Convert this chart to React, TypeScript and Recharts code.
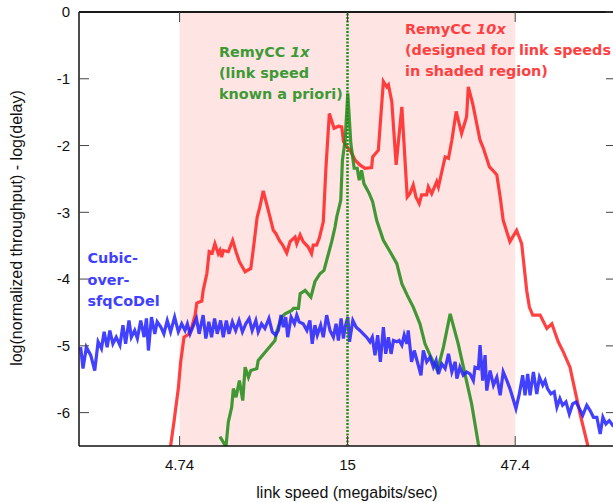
import React from "react";
import {
  LineChart,
  Line,
  XAxis,
  YAxis,
  ReferenceArea,
  ReferenceLine,
} from "recharts";

// x = log10(link speed, Mbps), y = log(normalized throughput) - log(delay)
const remy10x: [number, number][] = [
  [0.647, -6.57], [0.659, -6.14], [0.672, -5.64], [0.679, -5.24], [0.689, -4.87],
  [0.702, -4.83], [0.712, -4.72], [0.722, -4.54], [0.727, -4.36], [0.742, -4.33],
  [0.746, -4.17], [0.757, -3.92], [0.764, -3.59], [0.773, -3.61], [0.781, -3.47],
  [0.791, -3.62], [0.796, -3.57], [0.801, -3.67], [0.806, -3.57], [0.821, -3.59],
  [0.834, -3.42], [0.844, -3.59], [0.854, -3.74], [0.871, -3.89], [0.888, -3.84],
  [0.895, -3.57], [0.907, -3.07], [0.915, -2.92], [0.925, -2.68], [0.935, -2.87],
  [0.945, -3.07], [0.955, -3.27], [0.963, -3.32], [0.973, -3.42], [0.983, -3.49],
  [0.995, -3.61], [1.005, -3.44], [1.02, -3.37], [1.025, -3.47], [1.035, -3.34],
  [1.044, -3.44], [1.059, -3.52], [1.069, -3.62], [1.074, -3.49], [1.084, -3.49],
  [1.092, -3.39], [1.104, -3.14], [1.112, -2.32], [1.122, -1.52], [1.136, -1.74],
  [1.149, -1.71], [1.159, -1.72], [1.164, -1.94], [1.174, -2.02], [1.184, -2.07],
  [1.199, -2.22], [1.213, -2.29], [1.228, -2.34], [1.248, -2.33], [1.251, -2.17],
  [1.268, -2.07], [1.283, -1.04], [1.293, -1.12], [1.298, -1.09], [1.308, -1.34],
  [1.321, -2.29], [1.338, -1.42], [1.354, -2.77], [1.362, -2.72], [1.372, -2.59],
  [1.38, -2.77], [1.39, -2.87], [1.397, -2.74], [1.412, -2.74], [1.417, -2.62],
  [1.427, -2.72], [1.442, -2.54], [1.447, -2.62], [1.467, -2.17], [1.477, -2.19],
  [1.487, -1.92], [1.5, -1.49], [1.516, -1.82], [1.531, -1.57], [1.536, -1.12],
  [1.549, -1.37], [1.571, -1.92], [1.581, -2.04], [1.599, -2.32], [1.609, -2.37],
  [1.621, -2.44], [1.631, -2.77], [1.64, -3.12], [1.66, -3.44], [1.68, -3.27],
  [1.695, -3.47], [1.71, -4.17], [1.718, -4.42], [1.728, -4.54], [1.75, -4.54],
  [1.77, -4.74], [1.785, -4.67], [1.804, -4.94], [1.819, -5.09], [1.839, -5.32],
  [1.854, -5.67], [1.869, -6.02], [1.891, -6.47], [1.896, -6.64],
];

const remy1x: [number, number][] = [
  [0.796, -6.36], [0.814, -6.51], [0.821, -6.14], [0.831, -5.92], [0.836, -5.64],
  [0.844, -5.77], [0.854, -5.52], [0.864, -5.82], [0.871, -5.32], [0.881, -5.47],
  [0.888, -5.37], [0.906, -5.34], [0.91, -5.22], [0.935, -5.07], [0.96, -4.92],
  [0.965, -4.79], [0.98, -4.57], [0.99, -4.52], [1.01, -4.47], [1.015, -4.44],
  [1.03, -4.44], [1.035, -4.22], [1.05, -4.17], [1.067, -4.27], [1.079, -4.04],
  [1.094, -3.92], [1.106, -3.87], [1.114, -3.72], [1.129, -3.44], [1.139, -3.22],
  [1.144, -3.07], [1.156, -2.82], [1.161, -2.22], [1.169, -1.92], [1.177, -1.22],
  [1.186, -1.97], [1.196, -2.34], [1.205, -2.34], [1.211, -2.52], [1.218, -2.37],
  [1.225, -2.57], [1.241, -2.72], [1.251, -2.84], [1.263, -3.12], [1.283, -3.42],
  [1.303, -3.59], [1.323, -3.77], [1.338, -4.07], [1.354, -4.24], [1.372, -4.42],
  [1.392, -4.67], [1.407, -4.97], [1.422, -5.14], [1.444, -5.37], [1.462, -5.02],
  [1.482, -4.52], [1.506, -4.97], [1.526, -5.42], [1.546, -5.87], [1.566, -6.47],
  [1.571, -6.6],
];

const cubicSfqCodel: [number, number][] = [
  [0.381, -5.02], [0.388, -5.34], [0.398, -5.02], [0.411, -5.14], [0.423, -5.37],
  [0.433, -4.94], [0.443, -5.04], [0.451, -4.79], [0.46, -5.02], [0.468, -4.77],
  [0.477, -4.97], [0.487, -4.87], [0.498, -4.99], [0.507, -4.69], [0.515, -4.97],
  [0.525, -4.62], [0.532, -4.87], [0.542, -4.77], [0.55, -4.89], [0.56, -4.62],
  [0.57, -4.87], [0.577, -4.59], [0.583, -5.07], [0.592, -4.57], [0.602, -4.82],
  [0.609, -4.64], [0.62, -4.72], [0.629, -4.82], [0.639, -4.62], [0.649, -4.79],
  [0.661, -4.57], [0.672, -4.79], [0.682, -4.67], [0.692, -4.77], [0.699, -4.67],
  [0.707, -4.82], [0.719, -4.67], [0.726, -4.59], [0.734, -4.82], [0.746, -4.54],
  [0.754, -4.89], [0.763, -4.64], [0.771, -4.87], [0.78, -4.59], [0.788, -4.82],
  [0.798, -4.62], [0.806, -4.87], [0.815, -4.62], [0.823, -4.82], [0.833, -4.64],
  [0.843, -4.77], [0.853, -4.62], [0.863, -4.79], [0.873, -4.67], [0.883, -4.59],
  [0.892, -4.77], [0.903, -4.62], [0.91, -4.79], [0.92, -4.67], [0.93, -4.74],
  [0.942, -4.59], [0.952, -4.79], [0.962, -4.84], [0.97, -4.77], [0.978, -4.54],
  [0.985, -4.72], [0.992, -4.57], [0.998, -4.87], [1.008, -4.57], [1.018, -4.67],
  [1.025, -4.54], [1.032, -4.64], [1.044, -4.67], [1.055, -4.77], [1.064, -4.62],
  [1.071, -4.97], [1.079, -4.69], [1.086, -4.84], [1.096, -4.69], [1.104, -4.87],
  [1.114, -4.54], [1.124, -4.77], [1.134, -4.87], [1.142, -4.67], [1.149, -4.92],
  [1.157, -4.59], [1.164, -4.89], [1.169, -4.72], [1.177, -4.57], [1.182, -4.94],
  [1.192, -4.62], [1.202, -4.72], [1.213, -4.77], [1.223, -4.82], [1.233, -4.87],
  [1.243, -4.94], [1.25, -4.87], [1.258, -5.14], [1.266, -4.84], [1.274, -5.24],
  [1.283, -4.72], [1.29, -5.12], [1.298, -4.87], [1.306, -5.12], [1.313, -4.92],
  [1.323, -4.94], [1.33, -4.92], [1.338, -4.99], [1.345, -4.84], [1.353, -4.97],
  [1.357, -4.77], [1.367, -5.24], [1.375, -5.07], [1.387, -5.29], [1.395, -5.44],
  [1.402, -5.07], [1.412, -5.24], [1.422, -5.17], [1.432, -5.32], [1.44, -5.22],
  [1.447, -5.42], [1.457, -5.27], [1.467, -5.34], [1.477, -5.12], [1.487, -5.39],
  [1.497, -5.24], [1.502, -5.49], [1.511, -5.32], [1.521, -5.44], [1.531, -5.39],
  [1.541, -5.42], [1.551, -5.52], [1.556, -5.32], [1.566, -5.34], [1.571, -4.99],
  [1.579, -5.52], [1.586, -5.14], [1.591, -5.67], [1.601, -5.37], [1.611, -5.59],
  [1.621, -5.47], [1.631, -5.74], [1.64, -5.39], [1.651, -5.52], [1.66, -5.64],
  [1.668, -5.77], [1.678, -5.94], [1.688, -5.72], [1.698, -5.44], [1.705, -5.74],
  [1.713, -5.42], [1.72, -5.74], [1.73, -5.39], [1.74, -5.72], [1.748, -5.47],
  [1.758, -5.59], [1.765, -5.52], [1.772, -5.64], [1.782, -5.72], [1.792, -5.69],
  [1.8, -5.92], [1.809, -5.79], [1.817, -5.89], [1.827, -5.84], [1.837, -6.02],
  [1.847, -5.87], [1.857, -5.84], [1.867, -5.94], [1.877, -6.04], [1.889, -5.89],
  [1.899, -5.97], [1.909, -6.07], [1.919, -6.07], [1.929, -6.32], [1.937, -6.07],
  [1.946, -6.17], [1.956, -6.12], [1.966, -6.19], [1.976, -6.15],
];

const tickSpeeds = [4.74, 15, 47.4];
const tickLabels = ["4.74", "15", "47.4"];
const yTicks = [0, -1, -2, -3, -4, -5, -6];
const yDomain = [-6.5, 0];
const shadedSpeeds = [4.74, 47.4];
const knownSpeed = 15;

const xTicks = tickSpeeds.map((s) => Math.log10(s));
const xDomain = [Math.log10(knownSpeed) - 0.8, Math.log10(knownSpeed) + 0.8];

const toPoints = (arr: [number, number][]) =>
  arr.map(([logSpeed, score]) => ({ logSpeed, score }));

const AXIS_FONT = "'Liberation Sans', Arial, sans-serif";
const NOTE_FONT = "'DejaVu Sans', Verdana, sans-serif";

const RED = "#ff2020";
const GREEN = "#1f8a14";
const BLUE = "#2020ff";

// chart box and margins; plot size is what is left
const CHART_W = 630;
const CHART_H = 503;
const MARGIN = { top: 12, right: 14, bottom: 27, left: 19 };
const Y_AXIS_W = 60;
const X_AXIS_H = 30;
const PLOT_L = MARGIN.left + Y_AXIS_W;
const PLOT_W = CHART_W - MARGIN.left - MARGIN.right - Y_AXIS_W;
const PLOT_H = CHART_H - MARGIN.top - MARGIN.bottom - X_AXIS_H;

// only for the mirrored frame ticks in the overlay
const frameX = (v: number) => PLOT_L + ((v - xDomain[0]) / (xDomain[1] - xDomain[0])) * PLOT_W;
const frameY = (v: number) => MARGIN.top + ((yDomain[1] - v) / (yDomain[1] - yDomain[0])) * PLOT_H;

const BottomTick = (props: any) => {
  const { x, y, index } = props;
  return (
    <g>
      <line x1={x} y1={y} x2={x} y2={y - 10} stroke="#444" />
      <text x={x} y={y + 23.5} textAnchor="middle" fontSize={15} fill="#111" fontFamily={AXIS_FONT}>
        {tickLabels[index]}
      </text>
    </g>
  );
};

const LeftTick = (props: any) => {
  const { x, y, payload } = props;
  return (
    <g>
      <line x1={x} y1={y} x2={x + 10} y2={y} stroke="#444" />
      <text x={x - 9} y={y + 5.3} textAnchor="end" fontSize={15} fill="#111" fontFamily={AXIS_FONT}>
        {payload.value}
      </text>
    </g>
  );
};

export default function App() {
  const axisLine = { stroke: "#111", strokeWidth: 1.5 };
  return (
    <div
      style={{
        position: "absolute",
        left: 0,
        top: 0,
        width: 613,
        height: 503,
        overflow: "hidden",
        background: "#fff",
      }}
    >
      <LineChart width={CHART_W} height={CHART_H} margin={MARGIN}>
        <XAxis
          type="number"
          dataKey="logSpeed"
          domain={xDomain}
          ticks={xTicks}
          interval={0}
          allowDataOverflow
          height={X_AXIS_H}
          tickSize={0}
          tickMargin={0}
          tickLine={false}
          axisLine={axisLine}
          tick={<BottomTick />}
        />
        <YAxis
          type="number"
          domain={yDomain}
          ticks={yTicks}
          interval={0}
          allowDataOverflow
          width={Y_AXIS_W}
          tickSize={0}
          tickMargin={0}
          tickLine={false}
          axisLine={axisLine}
          tick={<LeftTick />}
        />
        <ReferenceArea
          x1={Math.log10(shadedSpeeds[0])}
          x2={Math.log10(shadedSpeeds[1])}
          fill="#ffe4e4"
          fillOpacity={1}
          stroke="none"
        />
        <Line
          data={toPoints(remy10x)}
          dataKey="score"
          type="linear"
          stroke={RED}
          strokeOpacity={0.85}
          strokeWidth={3.2}
          dot={false}
          isAnimationActive={false}
        />
        <Line
          data={toPoints(remy1x)}
          dataKey="score"
          type="linear"
          stroke={GREEN}
          strokeOpacity={0.85}
          strokeWidth={3.2}
          dot={false}
          isAnimationActive={false}
        />
        <Line
          data={toPoints(cubicSfqCodel)}
          dataKey="score"
          type="linear"
          stroke={BLUE}
          strokeOpacity={0.85}
          strokeWidth={3.2}
          dot={false}
          isAnimationActive={false}
        />
        <ReferenceLine
          x={Math.log10(knownSpeed)}
          stroke={GREEN}
          strokeWidth={2.5}
          strokeDasharray="2 1.5"
        />
        <text x={347} y={498} textAnchor="middle" fontSize={16} fill="#111" fontFamily={AXIS_FONT}>
          link speed (megabits/sec)
        </text>
        <text
          transform="translate(22, 228) rotate(-90)"
          textAnchor="middle"
          fontSize={16}
          fill="#111"
          fontFamily={AXIS_FONT}
        >
          log(normalized throughput) - log(delay)
        </text>
      </LineChart>
      {/* frame top/right with mirrored ticks, and series annotations */}
      <svg
        width={613}
        height={503}
        style={{ position: "absolute", left: 0, top: 0, pointerEvents: "none", zIndex: 2 }}
      >
        <rect x={PLOT_L} y={MARGIN.top - 1} width={PLOT_W} height={2} fill="#1a1a1a" />
        {xTicks.map((t) => (
          <rect key={`tx${t}`} x={frameX(t) - 0.5} y={MARGIN.top} width={1} height={10} fill="#444" />
        ))}
        {yTicks.map((t) => (
          <rect
            key={`ty${t}`}
            x={PLOT_L + PLOT_W - 10}
            y={frameY(t) - 0.5}
            width={10}
            height={1}
            fill="#444"
          />
        ))}
        <g fontFamily={NOTE_FONT} fontWeight="bold" fontSize={14.4}>
          <text fill="#3c9a34">
            <tspan x={219} y={57}>RemyCC <tspan fontStyle="italic">1x</tspan></tspan>
            <tspan x={219} y={78}>(link speed</tspan>
            <tspan x={219} y={99}>known a priori)</tspan>
          </text>
          <text fill="#ff4040">
            <tspan x={405} y={34}>RemyCC <tspan fontStyle="italic">10x</tspan></tspan>
            <tspan x={405} y={55}>(designed for link speeds</tspan>
            <tspan x={405} y={76}>in shaded region)</tspan>
          </text>
          <text fill="#4040ff">
            <tspan x={87.5} y={263}>Cubic-</tspan>
            <tspan x={87.5} y={285}>over-</tspan>
            <tspan x={87.5} y={306}>sfqCoDel</tspan>
          </text>
        </g>
      </svg>
    </div>
  );
}
